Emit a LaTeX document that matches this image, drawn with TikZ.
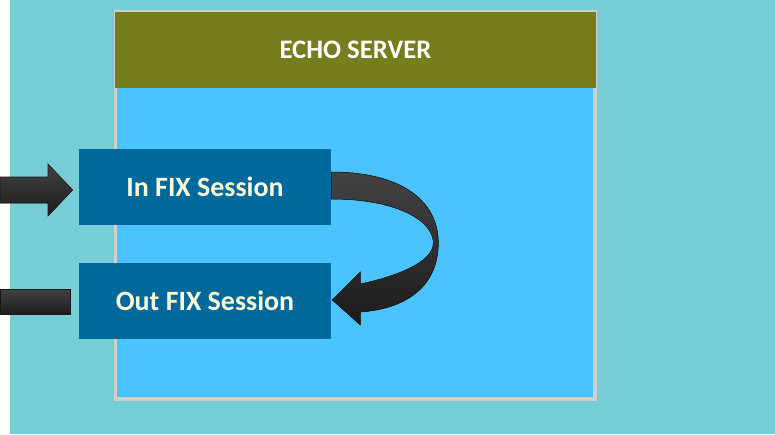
\documentclass[tikz,border=0pt]{standalone}
\usepackage{fontspec}
\setmainfont{Carlito}
\usetikzlibrary{calc,positioning}
\definecolor{pagebg}{HTML}{77CDD6}
\definecolor{frame}{HTML}{CFCFCF}
\definecolor{olive}{HTML}{757D1C}
\definecolor{bodyblue}{HTML}{4BC3FF}
\definecolor{sessblue}{HTML}{00699C}
\definecolor{cream}{HTML}{FBF8D8}
\tikzset{
    session/.style={
        fill=sessblue,
        minimum width=5.04cm,
        minimum height=1.52cm,
        inner sep=0pt,
        text=cream,
        font=\fontsize{15.9}{19}\selectfont\bfseries
    },
    blockarrow/.style={
        draw=black!90,
        line width=0.3pt,
        top color=black!74,
        bottom color=black!89
    },
}

\begin{document}
\begin{tikzpicture}[x=0.02cm,y=-0.02cm]
%% page
\useasboundingbox (0,0) rectangle (775,434);
\fill[pagebg] (10,0) rectangle (775,434);

%% server box
\fill[frame] (114,10) rectangle (597,401);
\fill[bodyblue] (117,13) rectangle (593,397);
\node[fill=olive,minimum width=9.62cm,minimum height=1.52cm,inner sep=0pt,
      text=white,font=\fontsize{15.2}{18}\selectfont\bfseries]
      (header) at (355.5,50) {ECHO SERVER};

%% sessions
\node[session] (in) at (205,187) {In FIX Session};
\node[session] (out) at (205,301) {Out FIX Session};

%% arrows
% incoming
\coordinate (src) at (0,190);
\fill[blockarrow] ($(src)+(0,-13)$) -- ++(48,0) -- ++(0,-13)
    -- ($(in.west)+(-6,3)$) -- ($(src)+(48,26)$) -- ++(0,-13)
    -- ($(src)+(0,13)$) -- cycle;
% outgoing
\coordinate (dst) at (0,301);
\fill[blockarrow] ($(dst)+(0,-12)$) -- ($(out.west)+(-8,-12)$)
    -- ($(out.west)+(-8,13)$) -- ($(dst)+(0,13)$) -- cycle;
% echo
\begin{scope}[shift={(in.east)}]
\fill[blockarrow] (0,-15) .. controls (69,-15) and (107,13) .. (107,56)
    .. controls (107,100) and (74,122) .. (29,125)
    -- (29,138) -- (1,113) -- (29,85) -- (29,97)
    .. controls (62,90) and (102,76) .. (102,56)
    .. controls (102,33) and (64,12) .. (0,12) -- cycle;
\end{scope}
\end{tikzpicture}
\end{document}
